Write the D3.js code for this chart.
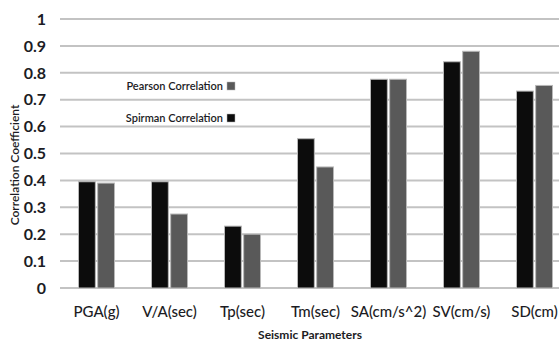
<!DOCTYPE html>
<html>
<head>
<meta charset="utf-8">
<script src="https://cdn.jsdelivr.net/npm/d3@7"></script>
<style>
  body { margin: 0; background: #fff; }
  svg { display: block; font-family: Lato, "Open Sans", sans-serif; }
</style>
</head>
<body>
<script>
// chart data
const categories = ["PGA(g)", "V/A(sec)", "Tp(sec)", "Tm(sec)", "SA(cm/s^2)", "SV(cm/s)", "SD(cm)"];
const spirman = [0.395, 0.395, 0.23, 0.555, 0.776, 0.841, 0.732];
const pearson = [0.39, 0.275, 0.2, 0.45, 0.776, 0.88, 0.753];
const yTicks = [0, 0.1, 0.2, 0.3, 0.4, 0.5, 0.6, 0.7, 0.8, 0.9, 1];
const seriesNames = ["Spirman Correlation", "Pearson Correlation"];

const W = 559, H = 342;
const margin = { top: 19, right: -12, bottom: 54, left: 60 };
const width = W - margin.left - margin.right;
const height = H - margin.top - margin.bottom;

const svg = d3.select("body")
    .append("svg")
    .attr("width", W)
    .attr("height", H);

const g = svg.append("g")
    .attr("transform", `translate(${margin.left},${margin.top})`);

const x = d3.scaleBand()
    .domain(categories)
    .range([0, width]);

const sub = d3.scaleBand()
    .domain(seriesNames)
    .range([0, 36])
    .paddingInner(0.12);

const y = d3.scaleLinear()
    .domain([0, 1])
    .range([height, 0]);

// gridlines
g.selectAll(".grid")
    .data(yTicks)
    .enter()
    .append("line")
    .attr("x1", 0)
    .attr("x2", width)
    .attr("y1", d => y(d))
    .attr("y2", d => y(d))
    .attr("stroke", "#c3c3c3")
    .attr("stroke-width", 2);

// y tick labels
g.selectAll(".ytick")
    .data(yTicks)
    .enter()
    .append("text")
    .attr("x", -14)
    .attr("y", d => y(d))
    .attr("dy", "0.36em")
    .attr("text-anchor", "end")
    .attr("font-size", 16)
    .attr("font-weight", 700)
    .attr("fill", "#1c1c24")
    .text(d => d);

// bars
const colors = { "Spirman Correlation": "#0c0c0c", "Pearson Correlation": "#595959" };
const rows = categories.map((c, i) => ({ cat: c, vals: [
    { s: "Spirman Correlation", v: spirman[i] },
    { s: "Pearson Correlation", v: pearson[i] }
]}));

const groups = g.selectAll(".cat")
    .data(rows)
    .enter()
    .append("g")
    .attr("transform", d => `translate(${x(d.cat) + x.bandwidth() / 2 - 18},0)`);

groups.selectAll("rect")
    .data(d => d.vals)
    .enter()
    .append("rect")
    .attr("x", d => sub(d.s))
    .attr("width", sub.bandwidth())
    .attr("y", d => y(d.v))
    .attr("height", d => height - y(d.v))
    .attr("fill", d => colors[d.s])
    .attr("stroke", "#b8b8b8")
    .attr("stroke-width", 1);

// x tick labels
g.selectAll(".xtick")
    .data(categories)
    .enter()
    .append("text")
    .attr("x", d => x(d) + x.bandwidth() / 2)
    .attr("y", height + 29)
    .attr("text-anchor", "middle")
    .attr("font-size", 15)
    .attr("font-weight", 500)
    .attr("fill", "#1c1c24")
    .text(d => d);

// axis titles
svg.append("text")
    .attr("x", 310)
    .attr("y", 339)
    .attr("text-anchor", "middle")
    .attr("font-size", 12)
    .attr("font-weight", 700)
    .attr("fill", "#1c1c24")
    .text("Seismic Parameters");

svg.append("text")
    .attr("transform", "translate(19,165) rotate(-90)")
    .attr("text-anchor", "middle")
    .attr("font-size", 12)
    .attr("font-weight", 600)
    .attr("fill", "#1c1c24")
    .text("Correlation Coefficient");

// legend
const legend = svg.append("g")
    .selectAll("g")
    .data(["Pearson Correlation", "Spirman Correlation"])
    .enter()
    .append("g")
    .attr("transform", (d, i) => `translate(0,${86 + i * 32})`);

legend.append("text")
    .attr("x", 223)
    .attr("y", 0)
    .attr("dy", "0.35em")
    .attr("text-anchor", "end")
    .attr("font-size", 11)
    .attr("font-weight", 600)
    .attr("fill", "#1c1c24")
    .text(d => d);

legend.append("rect")
    .attr("x", 227)
    .attr("y", -4)
    .attr("width", 8)
    .attr("height", 8)
    .attr("fill", d => colors[d])
    .attr("stroke", "#b8b8b8")
    .attr("stroke-width", 0.5);
</script>
</body>
</html>
